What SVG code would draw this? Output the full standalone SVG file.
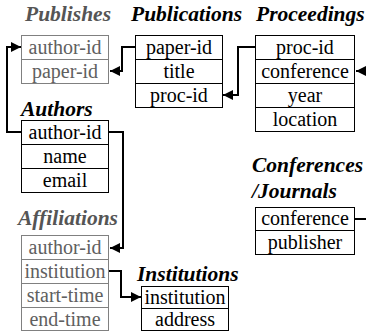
<svg xmlns="http://www.w3.org/2000/svg" width="366" height="331" viewBox="0 0 366 331">
<defs>
<marker id="arr" markerUnits="userSpaceOnUse" markerWidth="10" markerHeight="10" viewBox="0 0 10 10" refX="10" refY="5" orient="auto">
<path d="M0,0 L10,5 L0,10 z" fill="#000"/>
</marker>
<style>
text{font-family:'Liberation Serif','Times New Roman',Times,serif}
.t{font-weight:bold;font-style:italic;font-size:21.5px;fill:#000}
.tg{fill:#555}
.f{font-size:20px;fill:#000;text-anchor:middle}
.fg{fill:#606060}
.b{fill:#fff;stroke:#000;stroke-width:1}
.bg{stroke:#808080}
.c{fill:none;stroke:#000;stroke-width:2;marker-end:url(#arr)}
</style>
</defs>
<rect width="366" height="331" fill="#fff"/>
<g id="connectors">
<path class="c" d="M135,47 H122 V71 H110"/>
<path class="c" d="M255,47 H238 V95 H223"/>
<path class="c" d="M21,132 H7 V47 H21"/>
<path class="c" d="M108,132 H123 V248 H110"/>
<path class="c" d="M108,271 H121 V297 H141"/>
<path class="c" d="M354,219 H372 V71 H356"/>
</g>
<g id="publishes">
<text class="t tg" x="25" y="21">Publishes</text>
<rect class="b bg" x="21.5" y="35.5" width="87" height="24"/>
<rect class="b bg" x="21.5" y="59.5" width="87" height="24"/>
<text class="f fg" x="65" y="54">author-id</text>
<text class="f fg" x="65" y="78">paper-id</text>
</g>
<g id="publications">
<text class="t" x="131" y="21">Publications</text>
<rect class="b" x="135.5" y="35.5" width="87" height="24"/>
<rect class="b" x="135.5" y="59.5" width="87" height="24"/>
<rect class="b" x="135.5" y="83.5" width="87" height="24"/>
<text class="f" x="179" y="54">paper-id</text>
<text class="f" x="179" y="78">title</text>
<text class="f" x="179" y="102">proc-id</text>
</g>
<g id="proceedings">
<text class="t" x="256" y="21">Proceedings</text>
<rect class="b" x="255.5" y="35.5" width="99" height="24"/>
<rect class="b" x="255.5" y="59.5" width="99" height="24"/>
<rect class="b" x="255.5" y="83.5" width="99" height="24"/>
<rect class="b" x="255.5" y="107.5" width="99" height="24"/>
<text class="f" x="305" y="54">proc-id</text>
<text class="f" x="305" y="78">conference</text>
<text class="f" x="305" y="102">year</text>
<text class="f" x="305" y="126">location</text>
</g>
<g id="authors">
<text class="t" x="21" y="116">Authors</text>
<rect class="b" x="21.5" y="120.5" width="87" height="24"/>
<rect class="b" x="21.5" y="144.5" width="87" height="24"/>
<rect class="b" x="21.5" y="168.5" width="87" height="24"/>
<text class="f" x="65" y="139">author-id</text>
<text class="f" x="65" y="163">name</text>
<text class="f" x="65" y="187">email</text>
</g>
<g id="affiliations">
<text class="t tg" x="18" y="225">Affiliations</text>
<rect class="b bg" x="21.5" y="235.5" width="87" height="24"/>
<rect class="b bg" x="21.5" y="259.5" width="87" height="24"/>
<rect class="b bg" x="21.5" y="283.5" width="87" height="24"/>
<rect class="b bg" x="21.5" y="307.5" width="87" height="23"/>
<text class="f fg" x="65" y="254">author-id</text>
<text class="f fg" x="65" y="278">institution</text>
<text class="f fg" x="65" y="302">start-time</text>
<text class="f fg" x="65" y="326">end-time</text>
</g>
<g id="institutions">
<text class="t" x="137" y="281">Institutions</text>
<rect class="b" x="141.5" y="286.5" width="87" height="22"/>
<rect class="b" x="141.5" y="308.5" width="87" height="22"/>
<text class="f" x="185" y="304">institution</text>
<text class="f" x="185" y="326">address</text>
</g>
<g id="conferences">
<text class="t" x="252" y="172">Conferences</text>
<text class="t" x="252" y="198">/Journals</text>
<rect class="b" x="255.5" y="207.5" width="99" height="23"/>
<rect class="b" x="255.5" y="230.5" width="99" height="24"/>
<text class="f" x="305" y="225">conference</text>
<text class="f" x="305" y="249">publisher</text>
</g>
</svg>
